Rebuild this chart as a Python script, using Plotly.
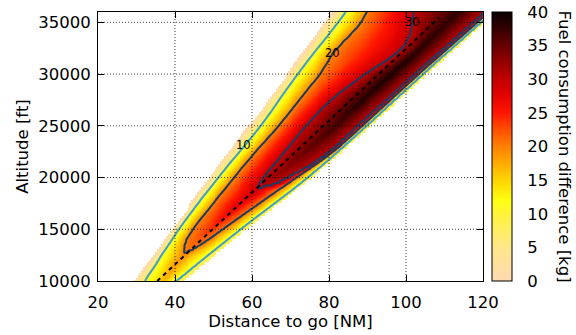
import numpy as np
import plotly.graph_objects as go

# ---------------------------------------------------------------------------
# Band geometry of the fuel consumption difference field
# ---------------------------------------------------------------------------
# altitude levels [ft] and limits of the feasible region [NM]
alt_levels = [10000, 15000, 20000, 25000, 30000, 35000, 36000]
left_limit = [29.5, 39.3, 48.7, 59.0, 69.0, 78.7, 80.5]
right_limit = [42.2, 58.2, 75.3, 90.6, 105.3, 120.3, 123.3]

# 10 kg iso-line, upper-left and lower-right branches [NM]
c10_left = [32.1, 41.0, 51.2, 62.2, 71.8, 82.3, 84.3]
c10_right = [40.3, 57.0, 74.4, 89.6, 104.3, 119.3, 122.3]

# 20 kg iso-line (closes near 12700 ft)
c20l_alt = [12680, 12900, 13800, 15000, 17500, 20000, 22500, 25000, 28000, 30000, 32000, 35000, 36000]
c20_left = [42.2, 42.25, 42.7, 44.6, 49.9, 55.3, 60.9, 66.9, 73.3, 77.6, 81.0, 88.2, 89.8]
c20r_alt = [12680, 12900, 13800, 15000, 20000, 22680, 25000, 30000, 35000, 36000]
c20_right = [42.5, 44.0, 48.0, 52.5, 71.5, 81.6, 88.6, 103.3, 118.5, 121.5]

# 30 kg iso-line (closes near 18900 ft)
c30l_alt = [18900, 19200, 20000, 22500, 25000, 27500, 30000, 31870, 32840, 33970, 35000, 36000]
c30_left = [61.3, 61.6, 63.0, 68.5, 74.0, 80.6, 89.5, 97.1, 99.7, 101.2, 101.7, 101.9]
c30r_alt = [18900, 19100, 19300, 20000, 21000, 22500, 25000, 27500, 30000, 32500, 35000, 36000]
c30_right = [61.6, 63.5, 65.8, 69.5, 74.5, 80.3, 87.6, 95.0, 102.4, 110.0, 117.6, 120.6]

# ridge of maximum difference
ridge_alt = [10000, 12680, 15000, 17500, 18900, 20000, 22500, 25000, 27500, 30000, 32500, 35000, 36000]
ridge_dist = [37.0, 42.35, 49.0, 56.5, 61.45, 65.3, 73.5, 81.5, 88.5, 96.0, 103.5, 110.5, 113.5]
ridge_value = [17.0, 20.0, 24.0, 28.0, 30.0, 32.0, 35.0, 37.0, 38.5, 39.0, 38.5, 38.0, 38.0]
edge_value = 8.0

# reference descent path (dashed)
path_dist = [35.4, 108.6]
path_alt = [10000, 35450]

# contour levels and label placement
line_levels = [10, 20, 30]
label_dist = [57.9, 81.0, 101.8]
label_alt = [23100, 32000, 35030]

x_ticks = [20, 40, 60, 80, 100, 120]
y_ticks = [10000, 15000, 20000, 25000, 30000, 35000]
cb_ticks = [0, 5, 10, 15, 20, 25, 30, 35, 40]


def pchip(xq, x, y):
    """Monotone piecewise-cubic Hermite interpolation (Fritsch-Carlson)."""
    x = np.asarray(x, float)
    y = np.asarray(y, float)
    hk = np.diff(x)
    dk = np.diff(y) / hk
    n = len(x)
    m = np.zeros(n)
    for k in range(1, n - 1):
        if dk[k - 1] * dk[k] > 0:
            w1 = 2 * hk[k] + hk[k - 1]
            w2 = hk[k] + 2 * hk[k - 1]
            m[k] = (w1 + w2) / (w1 / dk[k - 1] + w2 / dk[k])
    m[0] = dk[0]
    m[-1] = dk[-1]
    xq = np.clip(xq, x[0], x[-1])
    i = int(np.clip(np.searchsorted(x, xq) - 1, 0, n - 2))
    t = (xq - x[i]) / hk[i]
    h00 = 2 * t**3 - 3 * t**2 + 1
    h10 = t**3 - 2 * t**2 + t
    h01 = -2 * t**3 + 3 * t**2
    h11 = t**3 - t**2
    return h00 * y[i] + h10 * hk[i] * m[i] + h01 * y[i + 1] + h11 * hk[i] * m[i + 1]


# ---------------------------------------------------------------------------
# Build the gridded field from the tabulated crossings
# ---------------------------------------------------------------------------
d_grid = np.arange(20.0, 120.001, 0.5)
h_grid = np.arange(10000.0, 36000.1, 250.0)

z_field = np.full((h_grid.size, d_grid.size), np.nan)
z_lines = np.zeros_like(z_field)

for j, h in enumerate(h_grid):
    lo = pchip(h, alt_levels, left_limit)
    hi = pchip(h, alt_levels, right_limit)
    xp = [lo, pchip(h, alt_levels, c10_left)]
    fp = [0.0, 10.0]
    if h >= c20l_alt[0]:
        xp.append(pchip(h, c20l_alt, c20_left)); fp.append(20.0)
    if h >= c30l_alt[0]:
        xp.append(pchip(h, c30l_alt, c30_left)); fp.append(30.0)
    xp.append(pchip(h, ridge_alt, ridge_dist)); fp.append(pchip(h, ridge_alt, ridge_value))
    if h >= c30r_alt[0]:
        xp.append(pchip(h, c30r_alt, c30_right)); fp.append(30.0)
    if h >= c20r_alt[0]:
        xp.append(pchip(h, c20r_alt, c20_right)); fp.append(20.0)
    xp.append(pchip(h, alt_levels, c10_right)); fp.append(10.0)
    xp.append(hi); fp.append(edge_value)
    row = np.interp(d_grid, xp, fp)
    z_lines[j] = row
    inside = (d_grid >= lo) & (d_grid <= hi)
    z_field[j, inside] = row[inside]

fuel_scale = [
    [0.0, "#ffdab2"], [0.125, "#ffe78a"], [0.25, "#fff43a"], [0.30, "#ffff12"],
    [0.375, "#ffd400"], [0.45, "#ffa200"], [0.5, "#ff8000"], [0.575, "#ff4400"],
    [0.625, "#ff1500"], [0.70, "#de0000"], [0.75, "#c20000"], [0.825, "#8c0000"],
    [0.875, "#660000"], [0.95, "#2c0000"], [1.0, "#0a0000"],
]

FONT = "DejaVu Sans"
FS = 16.5
CB_X = 1.0234          # colorbar left edge, paper units
CB_W = 20 / 385        # colorbar thickness, paper units

fig = go.Figure()
fig.add_trace(go.Heatmap(
    x=d_grid, y=h_grid, z=z_field, zmin=0, zmax=40, zsmooth="best",
    colorscale=fuel_scale, hoverinfo="skip",
    colorbar=dict(
        x=CB_X, xanchor="left", xpad=0, y=0.5, yanchor="middle", ypad=0,
        len=1, thickness=20, outlinecolor="black", outlinewidth=1,
        tickvals=cb_ticks, ticks="outside", ticklen=12, tickcolor="rgba(0,0,0,0)",
        tickfont=dict(family=FONT, size=FS, color="black"),
    ),
))
fig.add_trace(go.Contour(
    x=d_grid, y=h_grid, z=z_lines, showscale=False, hoverinfo="skip",
    contours=dict(start=line_levels[0], end=line_levels[0], size=10, coloring="none"),
    line=dict(color="#3b9fca", width=2, smoothing=1.3),
))
fig.add_trace(go.Contour(
    x=d_grid, y=h_grid, z=z_lines, showscale=False, hoverinfo="skip",
    contours=dict(start=line_levels[1], end=line_levels[2], size=10, coloring="none"),
    line=dict(color="#1c3b62", width=2, smoothing=1.3),
))
fig.add_trace(go.Scatter(
    x=path_dist, y=path_alt, mode="lines", hoverinfo="skip", showlegend=False,
    line=dict(color="black", width=2, dash="4px,4px"),
))

for lv, xd, yd in zip(line_levels, label_dist, label_alt):
    fig.add_annotation(x=xd, y=yd, text=str(lv), showarrow=False,
                       font=dict(family=FONT, size=11.5, color="black"))

# dotted grid drawn over the field
grid_style = dict(color="rgba(0,0,0,0.75)", width=1, dash="1px,2px")
for v in x_ticks[1:-1]:
    fig.add_shape(type="line", x0=v, x1=v, y0=0, y1=1, xref="x", yref="paper",
                  line=grid_style, layer="above")
for v in y_ticks[1:]:
    fig.add_shape(type="line", x0=0, x1=1, y0=v, y1=v, xref="paper", yref="y",
                  line=grid_style, layer="above")

# inside ticks on both sides of the colorbar
tick_w = 5 / 385
for v in cb_ticks[1:-1]:
    fig.add_shape(type="line", x0=CB_X, x1=CB_X + tick_w, y0=v / 40, y1=v / 40,
                  xref="paper", yref="paper", line=dict(color="black", width=1))
    fig.add_shape(type="line", x0=CB_X + CB_W - tick_w, x1=CB_X + CB_W, y0=v / 40, y1=v / 40,
                  xref="paper", yref="paper", line=dict(color="black", width=1))

axis_common = dict(
    showgrid=False, zeroline=False, showline=True, linecolor="black", linewidth=1,
    mirror="ticks", ticks="inside", ticklen=6, tickcolor="black", tickwidth=1,
    automargin=False, tickfont=dict(family=FONT, size=FS, color="black"),
)
fig.update_xaxes(range=[20, 120], tickvals=x_ticks, ticklabelstandoff=6, **axis_common,
                 title=dict(text="Distance to go [NM]", font=dict(family=FONT, size=FS, color="black"), standoff=4))
fig.update_yaxes(range=[10000, 36000], tickvals=y_ticks, tickformat="d", ticklabelstandoff=3,
                 **axis_common,
                 title=dict(text="Altitude [ft]", font=dict(family=FONT, size=FS, color="black"), standoff=5))

fig.add_annotation(x=CB_X + 72 / 385, y=0.5, xref="paper", yref="paper", xanchor="center",
                   yanchor="middle", text="Fuel consumption difference [kg]", textangle=90,
                   showarrow=False, font=dict(family=FONT, size=FS, color="black"))

fig.update_layout(
    width=576, height=335, margin=dict(l=98, r=93, t=12, b=54, autoexpand=False),
    paper_bgcolor="white", plot_bgcolor="white", showlegend=False,
    font=dict(family=FONT, size=FS, color="black"),
)

fig.write_html("out.html")
